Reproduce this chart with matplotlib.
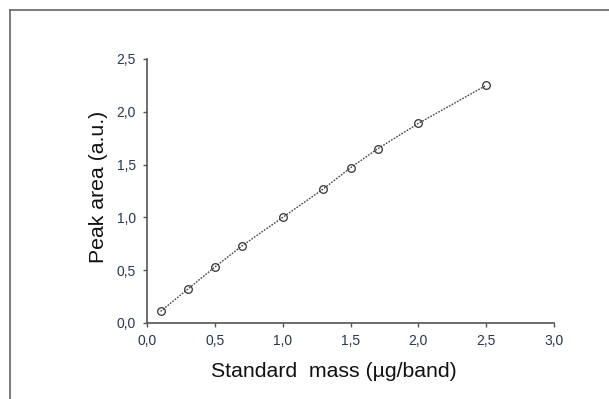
import matplotlib
matplotlib.use("Agg")
import matplotlib.pyplot as plt
from matplotlib.lines import Line2D

plt.rcParams['font.family'] = ['Liberation Sans', 'DejaVu Sans']

# standard mass (ug/band) vs peak area
mass = [0.1, 0.3, 0.5, 0.7, 1.0, 1.3, 1.5, 1.7, 2.0, 2.5]
area = [0.11, 0.32, 0.53, 0.73, 1.00, 1.27, 1.47, 1.65, 1.89, 2.25]

xticks = [0.0, 0.5, 1.0, 1.5, 2.0, 2.5, 3.0]
yticks = [0.0, 0.5, 1.0, 1.5, 2.0, 2.5]

fig = plt.figure(figsize=(6.09, 3.99), dpi=100)
ax = fig.add_axes([147/609, 1-323/399, (554-147)/609, (323-59)/399])

ax.plot(mass, area, color='#444444', linestyle=(0, (1.2, 1.0)), linewidth=1.0,
        marker='o', markersize=5.5, markerfacecolor='none',
        markeredgecolor='#333333', markeredgewidth=0.9)

ax.set_xlim(0, 3.0)
ax.set_ylim(0, 2.5)
ax.set_xticks(xticks)
ax.set_yticks(yticks)
lab_col = '#2b3550'
ax.set_xticklabels([f"{t:.1f}".replace('.', ',') for t in xticks], fontsize=10, color=lab_col)
ax.set_yticklabels([f"{t:.1f}".replace('.', ',') for t in yticks], fontsize=10, color=lab_col)
ax.tick_params(direction='out', length=3, width=1, color='#555555', pad=5)

ax.spines['top'].set_visible(False)
ax.spines['right'].set_visible(False)
for s in ['left', 'bottom']:
    ax.spines[s].set_color('#555555')
    ax.spines[s].set_linewidth(1.2)

ax.set_xlabel("Standard  mass (\u00b5g/band)", fontsize=15.3, color='#111111', va='center')
ax.set_ylabel("Peak area (a.u.)", fontsize=15.3, color='#111111', va='center')
ax.xaxis.set_label_coords(0.459, -0.182)
ax.yaxis.set_label_coords(-0.120, 0.515)

# outer frame (top and left edges)
fig.add_artist(Line2D([10/609, 1.0], [1-10/399, 1-10/399], transform=fig.transFigure,
                      color='#666666', linewidth=1.2))
fig.add_artist(Line2D([10/609, 10/609], [0.0, 1-10/399], transform=fig.transFigure,
                      color='#666666', linewidth=1.2))

fig.savefig("out.png", dpi=100)
